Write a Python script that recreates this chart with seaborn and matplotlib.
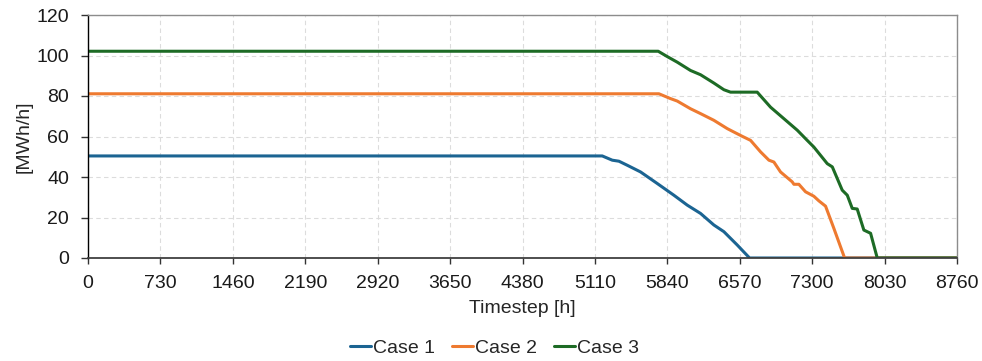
import numpy as np
import pandas as pd
import matplotlib
matplotlib.use("Agg")
import matplotlib.pyplot as plt
import seaborn as sns

case1_t = [0, 5184, 5285, 5352, 5436, 5570, 5738, 5906, 6041, 6175, 6309, 6410, 6545, 6669, 8760]
case1_v = [50.4, 50.4, 48.3, 47.8, 45.8, 42.5, 36.8, 31.0, 26.1, 22.0, 16.3, 13.0, 6.4, 0, 0]

case2_t = [0, 5755, 5873, 5940, 6074, 6175, 6309, 6444, 6511, 6595, 6679, 6780, 6864, 6914, 6981,
           7099, 7116, 7166, 7233, 7317, 7368, 7435, 7519, 7627, 8760]
case2_v = [81.1, 81.1, 78.7, 77.5, 73.7, 71.3, 68.0, 63.9, 62.2, 60.1, 58.1, 52.4, 48.3, 47.4, 42.5,
           37.6, 36.4, 36.4, 32.7, 30.5, 28.2, 25.6, 14.6, 0, 0]

case3_t = [0, 5748, 5838, 5940, 6074, 6175, 6309, 6410, 6477, 6746, 6880, 7015, 7150, 7250, 7317,
           7452, 7503, 7603, 7654, 7704, 7754, 7821, 7889, 7956, 8760]
case3_v = [102.1, 102.1, 99.5, 96.7, 92.6, 90.5, 86.4, 83.1, 81.9, 81.9, 74.5, 68.8, 63.1, 58.1, 54.8,
           46.6, 45.0, 33.5, 31.0, 24.5, 24.2, 13.8, 12.2, 0, 0]

case_names = ["Case 1", "Case 2", "Case 3"]
colors = ["#1b6492", "#ee7a30", "#1d6b25"]
x_ticks = list(range(0, 8761, 730))
y_ticks = list(range(0, 121, 20))

frames = []
for name, t, v in zip(case_names, [case1_t, case2_t, case3_t], [case1_v, case2_v, case3_v]):
    frames.append(pd.DataFrame({"t": t, "v": v, "case": name}))
df = pd.concat(frames, ignore_index=True)

sns.set_theme(style="white")
plt.rcParams["font.family"] = ["Liberation Sans", "DejaVu Sans"]

W, H = 982, 361
fig = plt.figure(figsize=(W / 100, H / 100), dpi=100)
ax = fig.add_axes([88 / W, (H - 258) / H, (957 - 88) / W, (258 - 15) / H])

sns.lineplot(data=df, x="t", y="v", hue="case", palette=colors, linewidth=2.2,
             ax=ax, sort=False, estimator=None)

ax.set_xlim(0, 8760)
ax.set_ylim(0, 120)
ax.set_xticks(x_ticks)
ax.set_yticks(y_ticks)
ax.tick_params(axis="both", labelsize=14, width=1, direction="out", colors="#333333",
               labelcolor="#1a1a1a", bottom=True, left=True)
ax.tick_params(axis="x", length=4, pad=8)
ax.tick_params(axis="y", length=5, pad=8.5)
ax.grid(True, color="#dcdcdc", linestyle=(0, (4, 3)), linewidth=0.8)
ax.set_axisbelow(True)
for s in ["top", "right"]:
    ax.spines[s].set_color("#8c8c8c")
    ax.spines[s].set_linewidth(1.0)
ax.spines["left"].set_color("#000000")
ax.spines["left"].set_linewidth(1.0)
ax.spines["bottom"].set_color("#404040")
ax.spines["bottom"].set_linewidth(1.3)

ax.set_xlabel("Timestep [h]", fontsize=14)
ax.xaxis.set_label_coords(0.5, -(300 - 258) / 243)
ax.set_ylabel("[MWh/h]", fontsize=14)
ax.yaxis.set_label_coords((33 - 88) / 869, 0.5)

handles, labels = ax.get_legend_handles_labels()
ax.get_legend().remove()
fig.legend(handles, labels, loc="center", bbox_to_anchor=(494.5 / W, 1 - 348 / H), ncol=3,
           frameon=False, fontsize=14, handlelength=1.1, handletextpad=0.1, columnspacing=0.85,
           borderpad=0)

fig.savefig("out.png", dpi=100)
